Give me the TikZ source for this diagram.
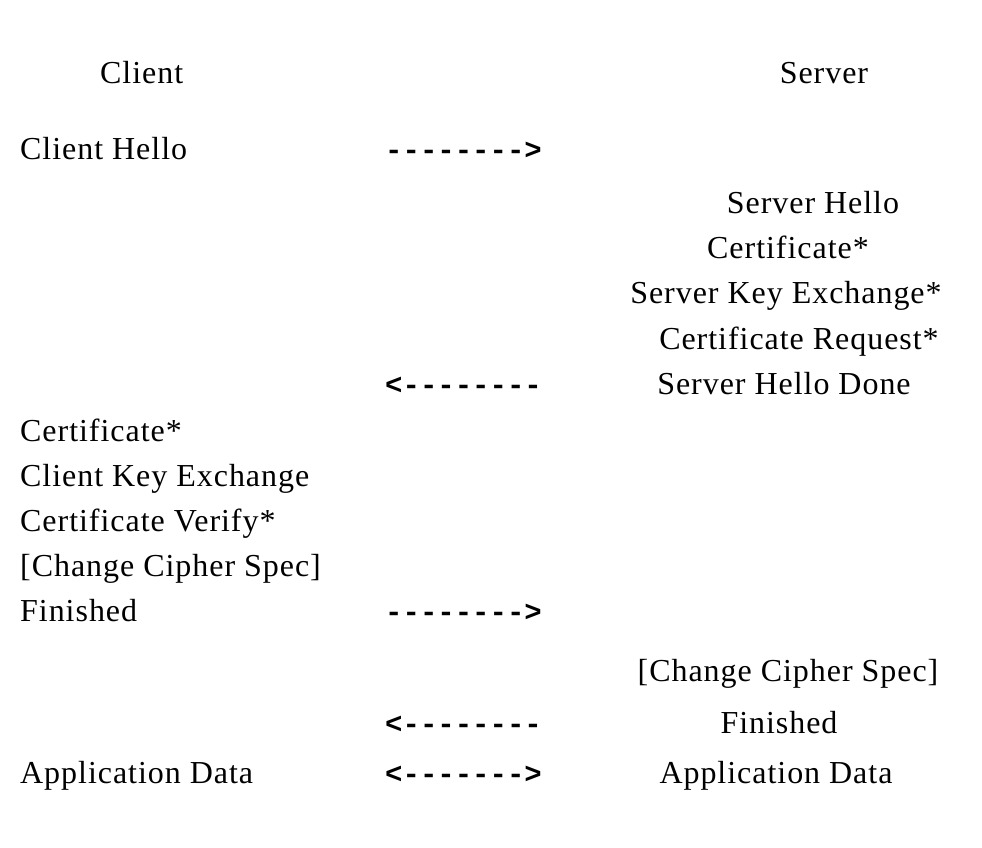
\documentclass[tikz,border=0pt]{standalone}
\usepackage{fontspec}
\setmainfont{Liberation Serif}[LetterSpace=3]
\setmonofont{Liberation Mono}
\tikzset{
  msg/.style={anchor=base west, inner sep=0pt, font=\fontsize{32}{38}\selectfont},
  reply/.style={anchor=base, inner sep=0pt, font=\fontsize{32}{38}\selectfont},
  flow/.style={anchor=base west, inner sep=0pt, font=\fontsize{29}{34}\ttfamily\bfseries}
}
\begin{document}
\begin{tikzpicture}[x=1pt,y=-1pt]
\useasboundingbox (0,0) rectangle (982,848);
% column headings
\node[msg] (client) at (100,84) {Client};
\node[reply] (server) at (824,84) {Server};
% first flight
\node[msg] (chello) at (20,159) {Client Hello};
\node[flow] (a1) at (385,159) {-------->};
% server flight
\node[reply] (shello) at (813,213) {Server Hello};
\node[reply] (scert) at (788,258) {Certificate*};
\node[reply] (ske) at (786,303) {Server Key Exchange*};
\node[reply] (creq) at (799,349) {Certificate Request*};
\node[flow] (a2) at (385,394) {<--------};
\node[reply] (shdone) at (784,394) {Server Hello Done};
% client response
\node[msg] (ccert) at (20,441) {Certificate*};
\node[msg] (cke) at (20,486) {Client Key Exchange};
\node[msg] (cverify) at (20,531) {Certificate Verify*};
\node[msg] (cccs) at (20,576) {[Change Cipher Spec]};
\node[msg] (cfin) at (20,621) {Finished};
\node[flow] (a3) at (385,621) {-------->};
% server finish
\node[reply] (sccs) at (788,681) {[Change Cipher Spec]};
\node[flow] (a4) at (385,733) {<--------};
\node[reply] (sfin) at (779,733) {Finished};
% application data
\node[msg] (cdata) at (20,783) {Application Data};
\node[flow] (a5) at (385,783) {<------->};
\node[reply] (sdata) at (776,783) {Application Data};
\end{tikzpicture}
\end{document}
